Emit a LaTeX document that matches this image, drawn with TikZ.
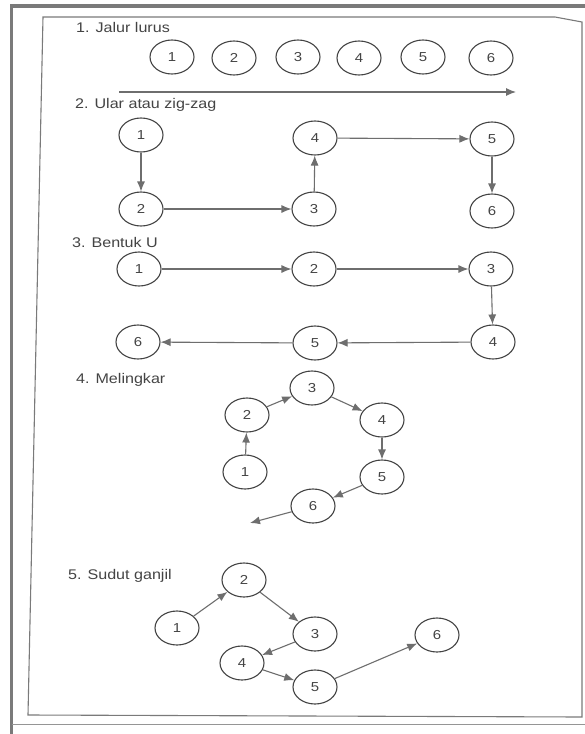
\documentclass[tikz,border=0pt]{standalone}
\usepackage{fontspec}
\setmainfont[FakeStretch=1.15]{Liberation Sans}
\usetikzlibrary{shapes.geometric,arrows.meta}
\definecolor{ink}{HTML}{444444}
\definecolor{arrc}{HTML}{6E6E6E}
\definecolor{framec}{HTML}{7A7A7A}
\begin{document}
\begin{tikzpicture}[x=1pt,y=-1pt,
  nd/.style={ellipse,draw=ink,line width=1.1pt,minimum width=44pt,minimum height=34pt,inner sep=0pt,font=\fontsize{13}{13}\selectfont,text=ink},
  lbl/.style={anchor=west,font=\fontsize{14}{14}\selectfont,text=ink,inner sep=0pt},
  arr/.style={draw=arrc,line width=1.1pt,-{Latex[length=10pt,width=8pt]}}]
\useasboundingbox (0,0) rectangle (585,734);
\fill[white] (0,0) rectangle (585,734);
% outer frame
\draw[framec,line width=3.5pt] (11.5,736) -- (11.5,6) -- (590,6);
\draw[framec!80,line width=1pt] (11.5,724) -- (590,724);
% inner frame
\draw[framec,line width=1.1pt] (43,17) -- (555,17) -- (582,22) -- (582,717) -- (28,715) -- cycle;

% 1. Jalur lurus
\node[lbl] (t1) at (76,27) {1. Jalur lurus};
\node[nd] (a1) at (172,57) {1};
\node[nd] (a2) at (234,58) {2};
\node[nd] (a3) at (298,57) {3};
\node[nd] (a4) at (359,58) {4};
\node[nd] (a5) at (423,57) {5};
\node[nd] (a6) at (491,58) {6};
\coordinate (as) at (119,92);
\coordinate (ae) at (516,92);
\draw[arr] (as) -- (ae);

% 2. Ular atau zig-zag
\node[lbl] (t2) at (75,105) {2. Ular atau zig-zag};
\node[nd] (b1) at (141,135) {1};
\node[nd] (b2) at (141,209) {2};
\node[nd] (b3) at (314,209) {3};
\node[nd] (b4) at (315,138) {4};
\node[nd] (b5) at (492,139) {5};
\node[nd] (b6) at (492,211) {6};
\draw[arr] (b1) -- (b2);
\draw[arr] (b2) -- (b3);
\draw[arr] (b3) -- (b4);
\draw[arr] (b4) -- (b5);
\draw[arr] (b5) -- (b6);

% 3. Bentuk U
\node[lbl] (t3) at (72,242) {3. Bentuk U};
\node[nd] (c1) at (139,269) {1};
\node[nd] (c2) at (314,269) {2};
\node[nd] (c3) at (491,269) {3};
\node[nd] (c4) at (493,342) {4};
\node[nd] (c5) at (315,343) {5};
\node[nd] (c6) at (138,342) {6};
\draw[arr] (c1) -- (c2);
\draw[arr] (c2) -- (c3);
\draw[arr] (c3) -- (c4);
\draw[arr] (c4) -- (c5);
\draw[arr] (c5) -- (c6);

% 4. Melingkar
\node[lbl] (t4) at (76,380) {4. Melingkar};
\node[nd] (d1) at (245,472) {1};
\node[nd] (d2) at (247,415) {2};
\node[nd] (d3) at (312,388) {3};
\node[nd] (d4) at (382,420) {4};
\node[nd] (d5) at (382,477) {5};
\node[nd] (d6) at (313,506) {6};
\coordinate (d7) at (250,523);
\draw[arr] (d1) -- (d2);
\draw[arr] (d2) -- (d3);
\draw[arr] (d3) -- (d4);
\draw[arr] (d4) -- (d5);
\draw[arr] (d5) -- (d6);
\draw[arr] (d6) -- (d7);

% 5. Sudut ganjil
\node[lbl] (t5) at (68,576) {5. Sudut ganjil};
\node[nd] (e1) at (177,628) {1};
\node[nd] (e2) at (244,580) {2};
\node[nd] (e3) at (315,634) {3};
\node[nd] (e4) at (242,663) {4};
\node[nd] (e5) at (315,687) {5};
\node[nd] (e6) at (437,635) {6};
\draw[arr] (e1) -- (e2);
\draw[arr] (e2) -- (e3);
\draw[arr] (e3) -- (e4);
\draw[arr] (e4) -- (e5);
\draw[arr] (e5) -- (e6);
\end{tikzpicture}
\end{document}
